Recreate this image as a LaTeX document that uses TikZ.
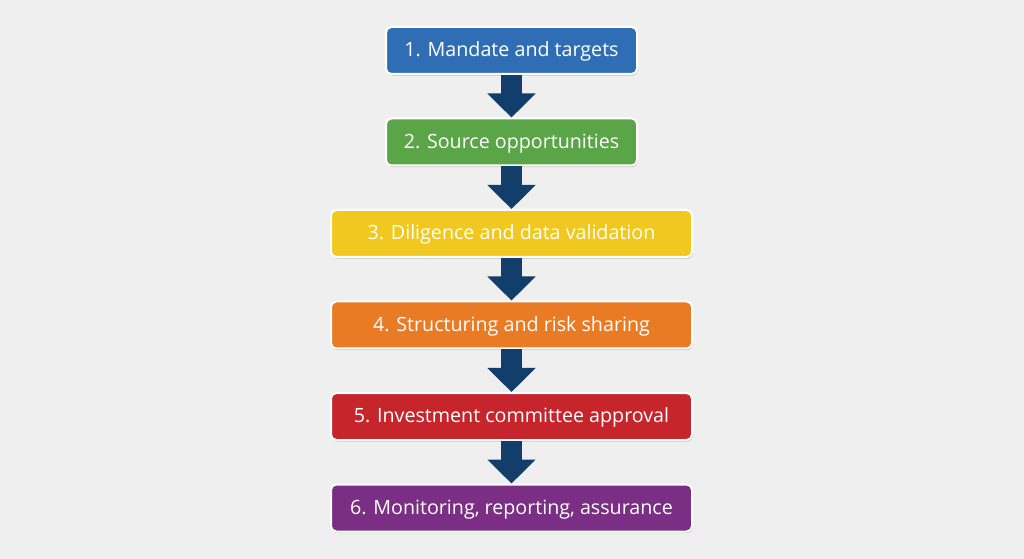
\documentclass[tikz,border=0pt]{standalone}
\usepackage{fontspec}
\setmainfont{Open Sans}
\usetikzlibrary{arrows.meta,shadows}
\definecolor{bg}{HTML}{EFEFEF}
\definecolor{cblue}{HTML}{2F6EB5}
\definecolor{cgreen}{HTML}{5AA547}
\definecolor{cyellow}{HTML}{F1C81F}
\definecolor{corange}{HTML}{EA7B25}
\definecolor{cred}{HTML}{C7252C}
\definecolor{cpurple}{HTML}{7A2E84}
\definecolor{arr}{HTML}{123E6C}
\tikzset{
  stepbox/.style={draw=white, line width=1.5pt, rounded corners=4pt, minimum height=35.25pt,
    text=white, font=\fontsize{14.75}{17}\selectfont, inner sep=0pt,
    text height=10.5pt, text depth=1pt,
    drop shadow={shadow xshift=0.6pt, shadow yshift=-1.2pt, fill=black, opacity=0.18}},
  narrow/.style={stepbox, minimum width=188.25pt},
  wide/.style={stepbox, minimum width=270.75pt},
  flow/.style={arr, line width=15.75pt, -{Triangle[width=35.25pt,length=18pt]}}
}
\begin{document}
\begin{tikzpicture}[x=0.75pt,y=-0.75pt]
\fill[bg] (0,0) rectangle (1024,559);
\useasboundingbox (0,0) rectangle (1024,559);
\node[narrow, fill=cblue] (s1) at (511.5,50.5) {1. Mandate and targets};
\node[narrow, fill=cgreen] (s2) at (511.5,142) {2. Source opportunities};
\node[wide, fill=cyellow] (s3) at (511.5,233.5) {3. Diligence and data validation};
\node[wide, fill=corange] (s4) at (511.5,325) {4. Structuring and risk sharing};
\node[wide, fill=cred] (s5) at (511.5,416.5) {5. Investment committee approval};
\node[wide, fill=cpurple] (s6) at (511.5,508) {6. Monitoring, reporting, assurance};
\draw[flow] (s1.south) -- (s2.north);
\draw[flow] (s2.south) -- (s3.north);
\draw[flow] (s3.south) -- (s4.north);
\draw[flow] (s4.south) -- (s5.north);
\draw[flow] (s5.south) -- (s6.north);
\end{tikzpicture}
\end{document}
